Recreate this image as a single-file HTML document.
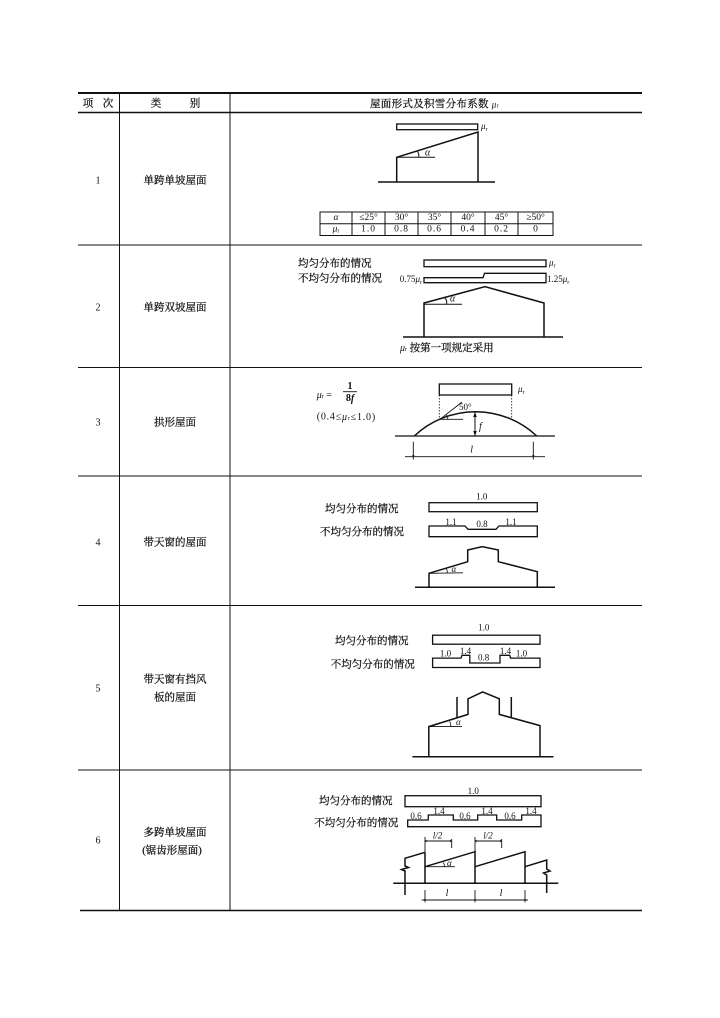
<!DOCTYPE html>
<html><head><meta charset="utf-8"><style>
html,body{margin:0;padding:0;background:#fff;}
svg{display:block;}
text{font-family:"Liberation Serif","Noto Serif CJK SC",serif;fill:#111;}
.cn{font-size:10.5px;stroke:#111;stroke-width:0.25px;}
.n{font-size:10px;}
.s{font-size:9px;}
.t{font-size:9.5px;}
.i{font-style:italic;}
</style></head><body>
<svg width="720" height="1018" viewBox="0 0 720 1018" xmlns="http://www.w3.org/2000/svg">
<rect width="720" height="1018" fill="#fff"/>
<g stroke="#111" fill="none">
 <line x1="78" y1="93" x2="642" y2="93" stroke-width="2"/>
 <line x1="78" y1="112.5" x2="642" y2="112.5" stroke-width="1.5"/>
 <line x1="78" y1="245" x2="642" y2="245" stroke-width="1"/>
 <line x1="78" y1="367.5" x2="642" y2="367.5" stroke-width="1"/>
 <line x1="78" y1="476" x2="642" y2="476" stroke-width="1"/>
 <line x1="78" y1="605.5" x2="642" y2="605.5" stroke-width="1"/>
 <line x1="78" y1="770" x2="642" y2="770" stroke-width="1"/>
 <line x1="80" y1="910.5" x2="642" y2="910.5" stroke-width="1.5"/>
 <line x1="119.5" y1="93" x2="119.5" y2="910.5" stroke-width="1"/>
 <line x1="230" y1="93" x2="230" y2="910.5" stroke-width="1"/>
</g>

<!-- header -->
<text x="88" y="104" class="cn" text-anchor="middle" dominant-baseline="central">项</text>
<text x="108" y="104" class="cn" text-anchor="middle" dominant-baseline="central">次</text>
<text x="156" y="104" class="cn" text-anchor="middle" dominant-baseline="central">类</text>
<text x="195" y="104" class="cn" text-anchor="middle" dominant-baseline="central">别</text>
<text x="370" y="104.5" class="cn" dominant-baseline="central" letter-spacing="0.3">屋面形式及积雪分布系数 <tspan class="i" font-size="9" stroke-width="0">μ</tspan><tspan font-size="6" dy="2" stroke-width="0">r</tspan></text>

<!-- column 1 & 2 -->
<g class="n" text-anchor="middle" dominant-baseline="central">
<text x="98" y="181">1</text>
<text x="98" y="308">2</text>
<text x="98" y="423">3</text>
<text x="98" y="543">4</text>
<text x="98" y="689">5</text>
<text x="98" y="841">6</text>
</g>
<g class="cn" text-anchor="middle" dominant-baseline="central">
<text x="175" y="181">单跨单坡屋面</text>
<text x="175" y="308">单跨双坡屋面</text>
<text x="175" y="423">拱形屋面</text>
<text x="175" y="543">带天窗的屋面</text>
<text x="175" y="680">带天窗有挡风</text>
<text x="175" y="698">板的屋面</text>
<text x="175" y="833">多跨单坡屋面</text>
<text x="172" y="851">(锯齿形屋面)</text>
</g>

<!-- ROW 1 -->
<g stroke="#111" fill="none" stroke-width="1.5">
 <rect x="396.7" y="124" width="81" height="5.7" stroke-width="1.3"/>
 <polyline points="396.7,182 396.7,157.3 478,132 478,182"/>
 <line x1="378" y1="182" x2="495" y2="182"/>
 <line x1="396.7" y1="157.3" x2="435" y2="157.3" stroke-width="1"/>
 <path d="M417.5,151.5 Q419.5,154.5 418.5,157.3" stroke-width="1"/>
 <rect x="320" y="212" width="233" height="23.5" stroke-width="1"/>
 <line x1="320" y1="223.8" x2="553" y2="223.8" stroke-width="1"/>
 <g stroke-width="1">
 <line x1="352" y1="212" x2="352" y2="235.5"/>
 <line x1="385" y1="212" x2="385" y2="235.5"/>
 <line x1="418" y1="212" x2="418" y2="235.5"/>
 <line x1="451" y1="212" x2="451" y2="235.5"/>
 <line x1="485" y1="212" x2="485" y2="235.5"/>
 <line x1="518" y1="212" x2="518" y2="235.5"/>
 </g>
</g>
<text x="481" y="129" class="s"><tspan class="i">μ</tspan><tspan font-size="6" dy="2">r</tspan></text>
<text x="425" y="153" class="n i" dominant-baseline="central">α</text>
<g class="t" text-anchor="middle" dominant-baseline="central">
<text x="336" y="218.2" class="i">α</text>
<text x="368.5" y="218.2">≤25°</text>
<text x="401.5" y="218.2">30°</text>
<text x="434.5" y="218.2">35°</text>
<text x="468" y="218.2">40°</text>
<text x="501.5" y="218.2">45°</text>
<text x="535.5" y="218.2">≥50°</text>
<text x="336" y="229.6"><tspan class="i">μ</tspan><tspan font-size="6" dy="2">r</tspan></text>
<text x="368.5" y="229.6" letter-spacing="1">1.0</text>
<text x="401.5" y="229.6" letter-spacing="1">0.8</text>
<text x="434.5" y="229.6" letter-spacing="1">0.6</text>
<text x="468" y="229.6" letter-spacing="1">0.4</text>
<text x="501.5" y="229.6" letter-spacing="1">0.2</text>
<text x="535.5" y="229.6">0</text>
</g>

<!-- ROW 2 -->
<g stroke="#111" fill="none" stroke-width="1.5">
 <rect x="424" y="260" width="122" height="6.7" stroke-width="1.3"/>
 <path d="M424,277.7 H483 L484.5,273.3 H546 V282.7 H424 Z" stroke-width="1.3"/>
 <polyline points="424,337 424,303 485,286.7 544,303 544,337"/>
 <line x1="403" y1="337" x2="563" y2="337"/>
 <line x1="424" y1="304.3" x2="462" y2="304.3" stroke-width="1"/>
 <path d="M445,298 Q447.5,301 446.5,304.3" stroke-width="1"/>
</g>
<text x="298" y="264" class="cn" dominant-baseline="central">均匀分布的情况</text>
<text x="549" y="265.5" class="s"><tspan class="i">μ</tspan><tspan font-size="6" dy="2">r</tspan></text>
<text x="298" y="279" class="cn" dominant-baseline="central">不均匀分布的情况</text>
<text x="422" y="282" class="s" text-anchor="end">0.75<tspan class="i">μ</tspan><tspan font-size="6" dy="2">r</tspan></text>
<text x="547" y="282" class="s">1.25<tspan class="i">μ</tspan><tspan font-size="6" dy="2">r</tspan></text>
<text x="450" y="299" class="n i" dominant-baseline="central">α</text>
<text x="400" y="348" class="cn" dominant-baseline="central"><tspan class="i" font-size="10" stroke-width="0">μ</tspan><tspan font-size="6" dy="2" stroke-width="0">r</tspan><tspan dy="-2"> 按第一项规定采用</tspan></text>

<!-- ROW 3 -->
<g stroke="#111" fill="none" stroke-width="1.5">
 <rect x="439.3" y="384" width="72.4" height="11" stroke-width="1.3"/>
 <line x1="439.3" y1="395" x2="439.3" y2="418" stroke-width="0.8" stroke-dasharray="1.5,1.5"/>
 <line x1="511.7" y1="395" x2="511.7" y2="418" stroke-width="0.8" stroke-dasharray="1.5,1.5"/>
 <path d="M414.3,436 A89.2,89.2 0 0 1 536.7,436"/>
 <line x1="395" y1="436" x2="555" y2="436" stroke-width="1.2"/>
 <line x1="475" y1="412" x2="475" y2="436" stroke-width="1"/>
 <line x1="440" y1="419.3" x2="462" y2="402" stroke-width="0.9"/>
 <line x1="440" y1="419.3" x2="463" y2="419.3" stroke-width="0.9"/>
 <path d="M446,414.5 Q448.5,417 447.5,419.3" stroke-width="0.8"/>
 <line x1="405" y1="456.7" x2="545" y2="456.7" stroke-width="0.9"/>
 <line x1="413.3" y1="441.7" x2="413.3" y2="459.5" stroke-width="0.9"/>
 <line x1="533.3" y1="441.7" x2="533.3" y2="459.5" stroke-width="0.9"/>
 <line x1="343" y1="391.7" x2="357" y2="391.7" stroke-width="0.9"/>
</g>
<g fill="#111">
 <path d="M475,412 L473.2,417 L476.8,417 Z"/>
 <path d="M475,436 L473.2,431 L476.8,431 Z"/>
 <path d="M413.3,456.7 l-1.5,-1.5 l3,0 Z"/>
 <path d="M533.3,456.7 l-1.5,-1.5 l3,0 Z"/>
</g>
<text x="316.7" y="395" class="n" dominant-baseline="central"><tspan class="i">μ</tspan><tspan font-size="6" dy="2">r</tspan><tspan dy="-2"> =</tspan></text>
<text x="350" y="386.5" class="n" text-anchor="middle" dominant-baseline="central" font-weight="bold">1</text>
<text x="350" y="398.5" class="n" text-anchor="middle" dominant-baseline="central" font-weight="bold">8<tspan class="i">f</tspan></text>
<text x="316.7" y="417" class="n" dominant-baseline="central" letter-spacing="0.8">(0.4≤<tspan class="i">μ</tspan><tspan font-size="6" dy="2">r</tspan><tspan dy="-2">≤1.0)</tspan></text>
<text x="518" y="392" class="s"><tspan class="i">μ</tspan><tspan font-size="6" dy="2">r</tspan></text>
<text x="459" y="407" class="s" dominant-baseline="central">50°</text>
<text x="479" y="427" class="n i" dominant-baseline="central">f</text>
<text x="471.7" y="450" class="n i" text-anchor="middle" dominant-baseline="central">l</text>

<!-- ROW 4 -->
<g stroke="#111" fill="none" stroke-width="1.5">
 <rect x="429" y="502.7" width="108.3" height="9" stroke-width="1.3"/>
 <path d="M429,526 H465 L468,529.3 H496 L499,526 H537.3 V536.7 H429 Z" stroke-width="1.3"/>
 <polyline points="429,587.3 429,573.3 467.7,561.7 467.7,550 482.3,546.7 498.3,550 498.3,561.7 537.3,571.7 537.3,587.3"/>
 <line x1="415" y1="587.3" x2="555" y2="587.3"/>
 <line x1="429" y1="573.3" x2="463" y2="572.8" stroke-width="0.9"/>
 <path d="M446,568.5 Q448,571 447,573.3" stroke-width="0.8"/>
</g>
<text x="481.7" y="496.5" class="s" text-anchor="middle" dominant-baseline="central">1.0</text>
<text x="325" y="509.3" class="cn" dominant-baseline="central">均匀分布的情况</text>
<text x="320" y="532.7" class="cn" dominant-baseline="central">不均匀分布的情况</text>
<text x="451" y="522" class="s" text-anchor="middle" dominant-baseline="central">1.1</text>
<text x="482" y="524" class="s" text-anchor="middle" dominant-baseline="central">0.8</text>
<text x="511" y="522" class="s" text-anchor="middle" dominant-baseline="central">1.1</text>
<text x="451.5" y="569" class="s i" dominant-baseline="central">α</text>

<!-- ROW 5 -->
<g stroke="#111" fill="none" stroke-width="1.5">
 <rect x="432.6" y="635.2" width="107.4" height="9" stroke-width="1.3"/>
 <path d="M432.6,658.1 H461 L462,655.3 H469.8 V663 H500 V655.3 H509.7 L510.5,658.1 H540 V667.5 H432.6 Z" stroke-width="1.3"/>
 <polyline points="428.8,756.8 428.8,726.6 468,714.4 468,698.8 482.6,691.9 499.3,698.8 499.3,714.4 540,725.6 540,756.8"/>
 <line x1="412.4" y1="756.8" x2="553.5" y2="756.8"/>
 <line x1="457" y1="697" x2="457" y2="718"/>
 <line x1="511.3" y1="697" x2="511.3" y2="718"/>
 <line x1="428.8" y1="726.6" x2="462" y2="726.6" stroke-width="0.9"/>
 <path d="M449.5,721.5 Q451.5,724 450.5,726.6" stroke-width="0.8"/>
</g>
<text x="483.7" y="627.5" class="s" text-anchor="middle" dominant-baseline="central">1.0</text>
<text x="335" y="641.4" class="cn" dominant-baseline="central">均匀分布的情况</text>
<text x="330.8" y="665" class="cn" dominant-baseline="central">不均匀分布的情况</text>
<text x="445.5" y="653.3" class="s" text-anchor="middle" dominant-baseline="central">1.0</text>
<text x="465.5" y="650.8" class="s" text-anchor="middle" dominant-baseline="central">1.4</text>
<text x="483.6" y="657.3" class="s" text-anchor="middle" dominant-baseline="central">0.8</text>
<text x="505.5" y="650.8" class="s" text-anchor="middle" dominant-baseline="central">1.4</text>
<text x="521.5" y="653.3" class="s" text-anchor="middle" dominant-baseline="central">1.0</text>
<text x="456" y="722" class="s i" dominant-baseline="central">α</text>

<!-- ROW 6 -->
<g stroke="#111" fill="none" stroke-width="1.5">
 <rect x="405" y="795.7" width="136" height="11" stroke-width="1.3"/>
 <path d="M407.7,820 H428.3 V815 H453.3 V820 H477.7 V815 H496.7 V820 H521.7 V815 H541 V826.7 H407.7 Z" stroke-width="1.3"/>
 <line x1="393.3" y1="883.3" x2="558.3" y2="883.3"/>
 <path d="M405,895 V871 L401.5,869.5 L408.5,867.5 L405,866 V858.3 L425,852.3"/>
 <line x1="425" y1="852.3" x2="425" y2="883.3"/>
 <polyline points="425,866.7 475,851.7 475,883.3"/>
 <polyline points="475,866.7 525,851.7 525,883.3"/>
 <path d="M525,866.7 L546.7,860 V869 L550,871 L543.5,873 L546.7,875 V893"/>
 <line x1="425" y1="866.7" x2="455" y2="866.7" stroke-width="0.9"/>
 <path d="M443,862.5 Q445,864.5 444,866.7" stroke-width="0.8"/>
 <g stroke-width="0.9">
 <line x1="425" y1="841" x2="451.7" y2="841"/>
 <line x1="425" y1="837" x2="425" y2="852.3"/>
 <line x1="451.7" y1="839" x2="451.7" y2="848"/>
 <line x1="475" y1="841" x2="501.7" y2="841"/>
 <line x1="475" y1="837" x2="475" y2="851.7"/>
 <line x1="501.7" y1="839" x2="501.7" y2="848"/>
 <line x1="421.7" y1="900" x2="528" y2="900"/>
 <line x1="425" y1="890" x2="425" y2="902.3"/>
 <line x1="475" y1="890" x2="475" y2="902.3"/>
 <line x1="525" y1="890" x2="525" y2="902.3"/>
 <line x1="405" y1="883.3" x2="405" y2="895"/>
 </g>
</g>
<g fill="#111">
 <path d="M425,841 l1.5,-1.5 l0,3 Z"/>
 <path d="M451.7,841 l-1.5,-1.5 l0,3 Z"/>
 <path d="M475,841 l1.5,-1.5 l0,3 Z"/>
 <path d="M501.7,841 l-1.5,-1.5 l0,3 Z"/>
 <circle cx="425" cy="900" r="1"/>
 <circle cx="475" cy="900" r="1"/>
 <circle cx="525" cy="900" r="1"/>
</g>
<text x="473.3" y="791" class="s" text-anchor="middle" dominant-baseline="central">1.0</text>
<text x="319" y="801.7" class="cn" dominant-baseline="central">均匀分布的情况</text>
<text x="314.3" y="823.3" class="cn" dominant-baseline="central">不均匀分布的情况</text>
<text x="416" y="816" class="s" text-anchor="middle" dominant-baseline="central">0.6</text>
<text x="439" y="811" class="s" text-anchor="middle" dominant-baseline="central">1.4</text>
<text x="465" y="816" class="s" text-anchor="middle" dominant-baseline="central">0.6</text>
<text x="487" y="811" class="s" text-anchor="middle" dominant-baseline="central">1.4</text>
<text x="510" y="816" class="s" text-anchor="middle" dominant-baseline="central">0.6</text>
<text x="531" y="811" class="s" text-anchor="middle" dominant-baseline="central">1.4</text>
<text x="437.5" y="835.7" class="s i" text-anchor="middle" dominant-baseline="central">l/2</text>
<text x="488" y="835.7" class="s i" text-anchor="middle" dominant-baseline="central">l/2</text>
<text x="447" y="863" class="s i" dominant-baseline="central">α</text>
<text x="447" y="893.5" class="n i" text-anchor="middle" dominant-baseline="central">l</text>
<text x="501" y="893.5" class="n i" text-anchor="middle" dominant-baseline="central">l</text>
</svg>
</body></html>
